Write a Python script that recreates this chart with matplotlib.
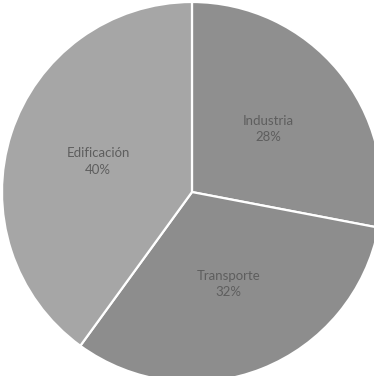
import matplotlib
matplotlib.use("Agg")
import matplotlib.pyplot as plt

sectores = ["Industria", "Transporte", "Edificación"]
porcentajes = [28, 32, 40]
colores = ["#8f8f8f", "#8d8d8d", "#a6a6a6"]

fig = plt.figure(figsize=(3.74, 3.76), dpi=100)
ax = fig.add_axes([0, 0, 1, 1])

etiquetas = ["%s\n%d%%" % (s, p) for s, p in zip(sectores, porcentajes)]
wedges, texts = ax.pie(porcentajes, labels=etiquetas, colors=colores,
                       startangle=90, counterclock=False, labeldistance=0.52,
                       wedgeprops=dict(edgecolor="white", linewidth=1.6),
                       textprops=dict(color="#5e5e5e", fontsize=9.5, family="Lato",
                                      ha="center", va="center", linespacing=1.45))

ax.set_xlim(-1.0105, 0.958)
ax.set_ylim(-0.968, 1.0105)
ax.set_aspect("auto")
ax.axis("off")

fig.savefig("out.png", dpi=100)
